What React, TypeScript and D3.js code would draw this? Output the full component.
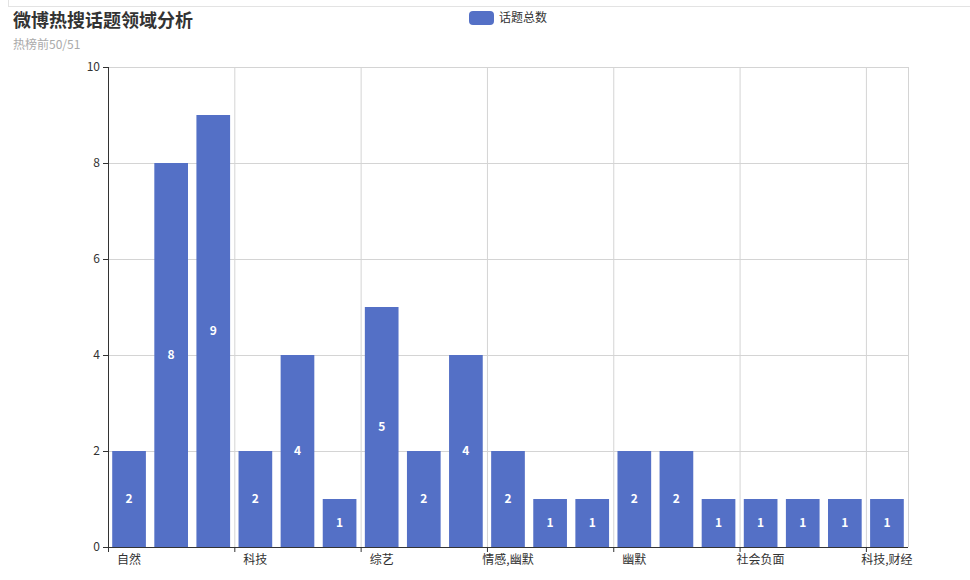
import React from "react";
import * as d3 from "d3";

// Topic categories (19 bars) and their topic counts
const categories = [
  "自然", "社会", "娱乐", "科技", "体育", "财经", "综艺", "情感", "明星",
  "情感,幽默", "教育", "健康", "幽默", "时政", "社会正面", "社会负面", "美食", "旅游", "科技,财经",
];
const values = [2, 8, 9, 2, 4, 1, 5, 2, 4, 2, 1, 1, 2, 2, 1, 1, 1, 1, 1];
const yTicks = [0, 2, 4, 6, 8, 10];
const labelInterval = 3;

const title = "微博热搜话题领域分析";
const subtitle = "热榜前50/51";
const seriesName = "话题总数";

const W = 970;
const H = 580;
const M = { left: 108, right: 62, top: 67, bottom: 33 };
const BAR = "#5470c6";
const FONT = "'Noto Sans CJK SC', 'Noto Sans', sans-serif";

export default function App() {
  const x = d3
    .scaleBand<number>()
    .domain(d3.range(categories.length))
    .range([M.left, W - M.right])
    .paddingInner(0.2)
    .paddingOuter(0.1);
  const y = d3.scaleLinear().domain([0, 10]).range([H - M.bottom, M.top]);
  const step = x.step();
  const boundary = (i: number) => M.left + i * step;
  const tickIdx = d3.range(0, categories.length, labelInterval);
  const y0 = y(0);

  return (
    <svg
      width={W}
      height={H}
      style={{ position: "absolute", left: 0, top: 0, background: "#fff", fontFamily: FONT }}
    >
      {/* frame edge at the top */}
      <line x1={8} x2={W} y1={6.5} y2={6.5} stroke="#e3e3e3" />
      <line x1={8.5} x2={8.5} y1={0} y2={6.5} stroke="#e3e3e3" />

      <text x={13} y={27} fontSize={18} fontWeight="bold" fill="#333">{title}</text>
      <text x={13} y={49} fontSize={12} fill="#aaa">{subtitle}</text>

      {/* legend */}
      <rect x={469} y={11} width={25} height={14} rx={4} fill={BAR} />
      <text x={499} y={22} fontSize={12} fill="#333">{seriesName}</text>

      {/* horizontal grid */}
      {yTicks.map((t) => (
        <line key={"h" + t} x1={M.left} x2={W - M.right} y1={y(t) + 0.5} y2={y(t) + 0.5} stroke="#d4d4d4" />
      ))}
      {/* vertical grid at labelled category boundaries */}
      {tickIdx.concat(categories.length).map((i) => (
        <line key={"v" + i} x1={boundary(i) + 0.5} x2={boundary(i) + 0.5} y1={M.top} y2={y0} stroke="#d4d4d4" />
      ))}

      {/* bars */}
      {values.map((v, i) => (
        <rect key={"b" + i} x={x(i)} y={y(v)} width={x.bandwidth()} height={y0 - y(v)} fill={BAR} />
      ))}
      {values.map((v, i) => (
        <text
          key={"l" + i}
          x={(x(i) as number) + x.bandwidth() / 2}
          y={(y(v) + y0) / 2}
          dy="0.35em"
          textAnchor="middle"
          fontSize={12}
          fontWeight={600}
          fill="#fff"
        >
          {v}
        </text>
      ))}

      {/* y axis */}
      <line x1={M.left + 0.5} x2={M.left + 0.5} y1={M.top} y2={y0} stroke="#333" />
      {yTicks.map((t) => (
        <g key={"yt" + t}>
          <line x1={M.left - 5} x2={M.left} y1={y(t) + 0.5} y2={y(t) + 0.5} stroke="#333" />
          <text x={M.left - 8} y={y(t)} dy="0.35em" textAnchor="end" fontSize={12} fill="#333">{t}</text>
        </g>
      ))}

      {/* x axis */}
      <line x1={M.left} x2={W - M.right} y1={y0 + 0.5} y2={y0 + 0.5} stroke="#333" />
      {tickIdx.map((i) => (
        <g key={"xt" + i}>
          <line x1={boundary(i) + 0.5} x2={boundary(i) + 0.5} y1={y0} y2={y0 + 5} stroke="#333" />
          <text
            x={(x(i) as number) + x.bandwidth() / 2}
            y={y0 + 17}
            textAnchor="middle"
            fontSize={12}
            fill="#333"
          >
            {categories[i]}
          </text>
        </g>
      ))}
    </svg>
  );
}
